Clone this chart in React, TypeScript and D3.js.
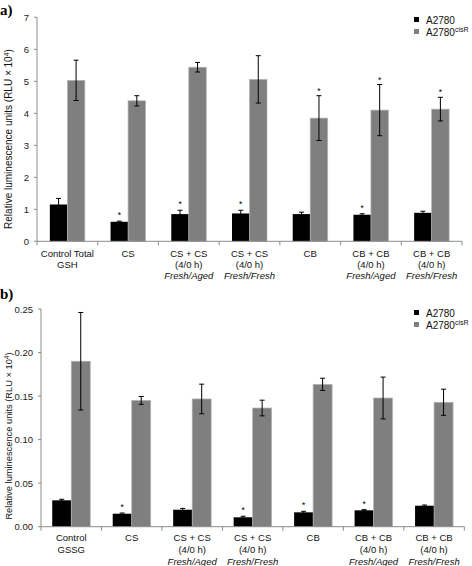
import React from "react";
import * as d3 from "d3";

const labelsA: string[][] = [
  ["Control Total", "GSH"],
  ["CS"],
  ["CS + CS", "(4/0 h)", "Fresh/Aged"],
  ["CS + CS", "(4/0 h)", "Fresh/Fresh"],
  ["CB"],
  ["CB + CB", "(4/0 h)", "Fresh/Aged"],
  ["CB + CB", "(4/0 h)", "Fresh/Fresh"],
];
const labelsB: string[][] = [
  ["Control", "GSSG"],
  ["CS"],
  ["CS + CS", "(4/0 h)", "Fresh/Aged"],
  ["CS + CS", "(4/0 h)", "Fresh/Fresh"],
  ["CB"],
  ["CB + CB", "(4/0 h)", "Fresh/Aged"],
  ["CB + CB", "(4/0 h)", "Fresh/Fresh"],
];

const a2780A = [1.15, 0.61, 0.85, 0.87, 0.85, 0.83, 0.89];
const a2780ErrA = [0.19, 0.02, 0.12, 0.1, 0.06, 0.03, 0.05];
const cisRA = [5.03, 4.39, 5.44, 5.06, 3.85, 4.1, 4.13];
const cisRErrA = [0.63, 0.16, 0.15, 0.74, 0.7, 0.8, 0.37];
const sigBlackA = [false, true, true, true, false, true, false];
const sigGreyA = [false, false, false, false, true, true, true];
const ticksA = [0, 1, 2, 3, 4, 5, 6, 7];

const a2780B = [0.0303, 0.0149, 0.0195, 0.0108, 0.0165, 0.0188, 0.0241];
const a2780ErrB = [0.0012, 0.0008, 0.0015, 0.0012, 0.0012, 0.0008, 0.0008];
const cisRB = [0.19, 0.145, 0.1467, 0.1363, 0.1635, 0.1478, 0.1429];
const cisRErrB = [0.056, 0.0045, 0.017, 0.009, 0.007, 0.024, 0.015];
const sigBlackB = [false, true, false, true, true, true, false];
const sigGreyB = [false, false, false, false, false, false, false];
const ticksB = [0, 0.05, 0.1, 0.15, 0.2, 0.25];

const FONT = "'Liberation Sans', Arial, sans-serif";
const AXIS = "#8c8c8c";

interface PanelProps {
  label: string;
  labels: string[][];
  black: number[];
  blackErr: number[];
  grey: number[];
  greyErr: number[];
  sigBlack: boolean[];
  sigGrey: boolean[];
  ticks: number[];
  fmt: (v: number) => string;
  x0: number;
  x1: number;
  yTop: number;
  yBot: number;
  yMax: number;
  barW: number;
  labelY: number;
  lineH: number;
  titleSize: number;
  titleY: number;
  legendY: number;
  letterY: number;
}

function Panel(p: PanelProps) {
  const idx = p.labels.map((_, i) => String(i));
  const x = d3.scaleBand().domain(idx).range([p.x0, p.x1]).padding(0);
  const y = d3.scaleLinear().domain([0, p.yMax]).range([p.yBot, p.yTop]);
  const bw = x.bandwidth();
  const boundaries = d3.range(p.labels.length + 1).map((i) => p.x0 + i * bw);
  const errBar = (cx: number, v: number, e: number, key: string) => (
    <g key={key} stroke="#000" strokeWidth={1}>
      <line x1={cx} x2={cx} y1={y(v + e)} y2={y(Math.max(0, v - e))} />
      <line x1={cx - 2.5} x2={cx + 2.5} y1={y(v + e)} y2={y(v + e)} />
      <line x1={cx - 2.5} x2={cx + 2.5} y1={y(Math.max(0, v - e))} y2={y(Math.max(0, v - e))} />
    </g>
  );
  return (
    <g>
      <text x={0} y={p.letterY} fontFamily="'Liberation Serif', 'Times New Roman', serif" fontWeight="bold" fontSize={15}>
        {p.label}
      </text>
      {p.labels.map((_, i) => {
        const cx = (x(String(i)) as number) + bw / 2;
        return (
          <g key={i}>
            <rect x={cx - p.barW} y={y(p.black[i])} width={p.barW} height={p.yBot - y(p.black[i])} fill="#000" />
            <rect x={cx} y={y(p.grey[i])} width={p.barW} height={p.yBot - y(p.grey[i])} fill="#7f7f7f" stroke="#b5b5b5" strokeWidth={0.7} />
            {errBar(cx - p.barW / 2, p.black[i], p.blackErr[i], "eb" + i)}
            {errBar(cx + p.barW / 2, p.grey[i], p.greyErr[i], "eg" + i)}
            {p.sigBlack[i] && (
              <text x={cx - p.barW / 2} y={y(p.black[i] + p.blackErr[i]) - 3} textAnchor="middle" fontFamily={FONT} fontSize={8.5}>
                *
              </text>
            )}
            {p.sigGrey[i] && (
              <text x={cx + p.barW / 2} y={y(p.grey[i] + p.greyErr[i]) - 2} textAnchor="middle" fontFamily={FONT} fontSize={8.5}>
                *
              </text>
            )}
          </g>
        );
      })}
      <line x1={p.x0} x2={p.x0} y1={p.yTop} y2={p.yBot} stroke={AXIS} strokeWidth={1} />
      <line x1={p.x0} x2={p.x1} y1={p.yBot} y2={p.yBot} stroke={AXIS} strokeWidth={1} />
      {p.ticks.map((t) => (
        <g key={t}>
          <line x1={p.x0 - 3} x2={p.x0} y1={y(t)} y2={y(t)} stroke={AXIS} />
          <text x={p.x0 - 8} y={y(t) + 3.5} textAnchor="end" fontFamily={FONT} fontSize={9.5} fill="#222">
            {p.fmt(t)}
          </text>
        </g>
      ))}
      {boundaries.map((bx, i) => (
        <line key={i} x1={bx} x2={bx} y1={p.yBot} y2={p.yBot + 4} stroke={AXIS} />
      ))}
      {p.labels.map((lines, i) => {
        const cx = (x(String(i)) as number) + bw / 2;
        return (
          <text key={i} textAnchor="middle" fontFamily={FONT} fontSize={9.5} fill="#111">
            {lines.map((ln, j) => (
              <tspan key={j} x={cx} y={p.labelY + j * p.lineH} fontStyle={j === 2 ? "italic" : "normal"}>
                {ln}
              </tspan>
            ))}
          </text>
        );
      })}
      <text
        transform={`translate(12,${p.titleY}) rotate(-90)`}
        textAnchor="middle"
        fontFamily={FONT}
        fontSize={p.titleSize}
        fill="#111"
      >
        Relative luminescence units (RLU × 10<tspan dy={-3} fontSize={p.titleSize * 0.7}>4</tspan>
        <tspan dy={3}>)</tspan>
      </text>
      <rect x={414} y={p.legendY - 3} width={5} height={5} fill="#000" />
      <text x={426} y={p.legendY + 3.5} fontFamily={FONT} fontSize={10} fill="#111">
        A2780
      </text>
      <rect x={414} y={p.legendY + 9} width={5} height={5} fill="#7f7f7f" />
      <text x={426} y={p.legendY + 15.5} fontFamily={FONT} fontSize={10} fill="#111">
        A2780<tspan dy={-4} fontSize={7}>cisR</tspan>
      </text>
    </g>
  );
}

export default function App() {
  return (
    <svg width={472} height={566} style={{ position: "absolute", left: 0, top: 0, background: "#fff" }}>
      <Panel
        label="a)"
        labels={labelsA}
        black={a2780A}
        blackErr={a2780ErrA}
        grey={cisRA}
        greyErr={cisRErrA}
        sigBlack={sigBlackA}
        sigGrey={sigGreyA}
        ticks={ticksA}
        fmt={d3.format("d")}
        x0={37}
        x1={462}
        yTop={17.3}
        yBot={241.3}
        yMax={7}
        barW={17.5}
        labelY={257}
        lineH={11}
        titleSize={10}
        titleY={139}
        legendY={20}
        letterY={15}
      />
      <Panel
        label="b)"
        labels={labelsB}
        black={a2780B}
        blackErr={a2780ErrB}
        grey={cisRB}
        greyErr={cisRErrB}
        sigBlack={sigBlackB}
        sigGrey={sigGreyB}
        ticks={ticksB}
        fmt={d3.format(".2f")}
        x0={41}
        x1={464.3}
        yTop={309}
        yBot={526.7}
        yMax={0.25}
        barW={19}
        labelY={541}
        lineH={12}
        titleSize={9.3}
        titleY={436}
        legendY={313}
        letterY={299}
      />
    </svg>
  );
}
